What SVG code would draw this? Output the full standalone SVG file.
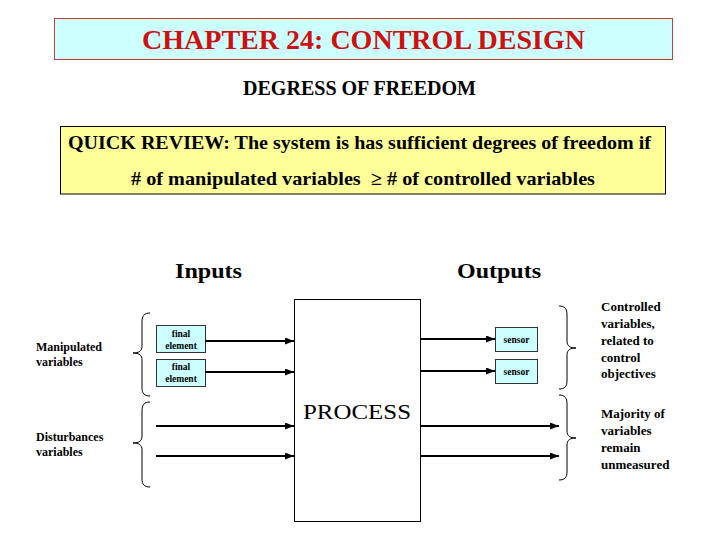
<svg xmlns="http://www.w3.org/2000/svg" width="720" height="540" viewBox="0 0 720 540">
<style>
text{font-family:"Liberation Serif","Times New Roman",serif;fill:#000}
.b{font-weight:bold}
.lbl{font-weight:bold;font-size:12px}
.rl{font-weight:bold;font-size:13px}
.sm{font-weight:bold;font-size:9.5px}
.box{fill:#ccffff;stroke:#333;stroke-width:1}
.arr{stroke:#000;stroke-width:2;fill:none}
.brace{stroke:#000;stroke-width:1;fill:none}
</style>
<defs>
<marker id="ah" markerUnits="userSpaceOnUse" markerWidth="9" markerHeight="7" refX="9" refY="3.5" orient="auto">
<path d="M0,0 L9,3.5 L0,7 z" fill="#000"/>
</marker>
</defs>
<rect width="720" height="540" fill="#fff"/>
<g id="title">
<rect x="54.5" y="18.5" width="618" height="41" fill="#ccffff" stroke="#c04040" stroke-width="1"/>
<text x="363.5" y="48.5" text-anchor="middle" class="b" font-size="28" style="fill:#d01010" textLength="443" lengthAdjust="spacingAndGlyphs">CHAPTER 24: CONTROL DESIGN</text>
</g>
<g id="subtitle">
<text x="359.5" y="95" text-anchor="middle" class="b" font-size="20" textLength="233" lengthAdjust="spacingAndGlyphs">DEGRESS OF FREEDOM</text>
</g>
<g id="review">
<rect x="60.5" y="126.5" width="605" height="67.5" fill="#ffff99" stroke="#000" stroke-width="1"/>
<text x="68" y="149" class="b" font-size="19" textLength="583" lengthAdjust="spacingAndGlyphs">QUICK REVIEW: The system is has sufficient degrees of freedom if</text>
<text x="131" y="185" class="b" font-size="19" textLength="464" lengthAdjust="spacingAndGlyphs"># of manipulated variables&#160; ≥ # of controlled variables</text>
</g>
<g id="inputs-label"><text x="175" y="278" class="b" font-size="22" textLength="67" lengthAdjust="spacingAndGlyphs">Inputs</text></g>
<g id="outputs-label"><text x="457" y="278" class="b" font-size="22" textLength="84" lengthAdjust="spacingAndGlyphs">Outputs</text></g>
<g id="process">
<rect x="294.5" y="299.5" width="126" height="222" fill="#fff" stroke="#000" stroke-width="1"/>
<text x="303" y="418.5" font-size="22" textLength="108" lengthAdjust="spacingAndGlyphs">PROCESS</text>
</g>
<g id="final-element-1">
<rect class="box" x="156.5" y="325.5" width="49" height="27"/>
<text class="sm" x="181" y="337" text-anchor="middle">final</text>
<text class="sm" x="181" y="348.5" text-anchor="middle">element</text>
</g>
<g id="final-element-2">
<rect class="box" x="156.5" y="359.5" width="49" height="27"/>
<text class="sm" x="181" y="370" text-anchor="middle">final</text>
<text class="sm" x="181" y="382" text-anchor="middle">element</text>
</g>
<g id="sensor-1">
<rect class="box" x="495.5" y="327.5" width="42" height="24"/>
<text class="sm" x="516.5" y="342.5" text-anchor="middle" font-size="9">sensor</text>
</g>
<g id="sensor-2">
<rect class="box" x="495.5" y="359.5" width="42" height="24"/>
<text class="sm" x="516.5" y="374.5" text-anchor="middle" font-size="9">sensor</text>
</g>
<g id="manipulated-label">
<text class="lbl" x="36" y="351">Manipulated</text>
<text class="lbl" x="36" y="365.5">variables</text>
</g>
<g id="disturbances-label">
<text class="lbl" x="36" y="441">Disturbances</text>
<text class="lbl" x="36" y="455.5">variables</text>
</g>
<g id="controlled-label">
<text class="rl" x="601" y="311">Controlled</text>
<text class="rl" x="601" y="328">variables,</text>
<text class="rl" x="601" y="345">related to</text>
<text class="rl" x="601" y="362">control</text>
<text class="rl" x="601" y="378">objectives</text>
</g>
<g id="unmeasured-label">
<text class="rl" x="601" y="418">Majority of</text>
<text class="rl" x="601" y="435">variables</text>
<text class="rl" x="601" y="452">remain</text>
<text class="rl" x="601" y="469">unmeasured</text>
</g>
<g id="braces">
<path class="brace" d="M150,313 C144,313 142,316 142,322 L142,346 C142,351 139,353 133,353 C139,353 142,355 142,360 L142,388 C142,393 144,396 150,396"/>
<path class="brace" d="M150,402 C144,402 142,405 142,411 L142,436 C142,441 139,443 133,443 C139,443 142,445 142,450 L142,479 C142,484 144,487 150,487"/>
<path class="brace" d="M559,306 C565,306 567,309 567,315 L567,341 C567,346 570,348 576,348 C570,348 567,350 567,355 L567,381 C567,386 565,389 559,389"/>
<path class="brace" d="M559,395 C565,395 567,398 567,404 L567,431 C567,436 570,438 576,438 C570,438 567,440 567,445 L567,472 C567,477 565,480 559,480"/>
</g>
<g id="connectors">
<line class="arr" x1="205" y1="341" x2="294" y2="341" marker-end="url(#ah)"/>
<line class="arr" x1="205" y1="372" x2="294" y2="372" marker-end="url(#ah)"/>
<line class="arr" x1="156" y1="426" x2="294" y2="426" marker-end="url(#ah)"/>
<line class="arr" x1="156" y1="456" x2="294" y2="456" marker-end="url(#ah)"/>
<line class="arr" x1="421" y1="339" x2="495" y2="339" marker-end="url(#ah)"/>
<line class="arr" x1="421" y1="371" x2="495" y2="371" marker-end="url(#ah)"/>
<line class="arr" x1="421" y1="426" x2="559" y2="426" marker-end="url(#ah)"/>
<line class="arr" x1="421" y1="456" x2="559" y2="456" marker-end="url(#ah)"/>
</g>
</svg>
